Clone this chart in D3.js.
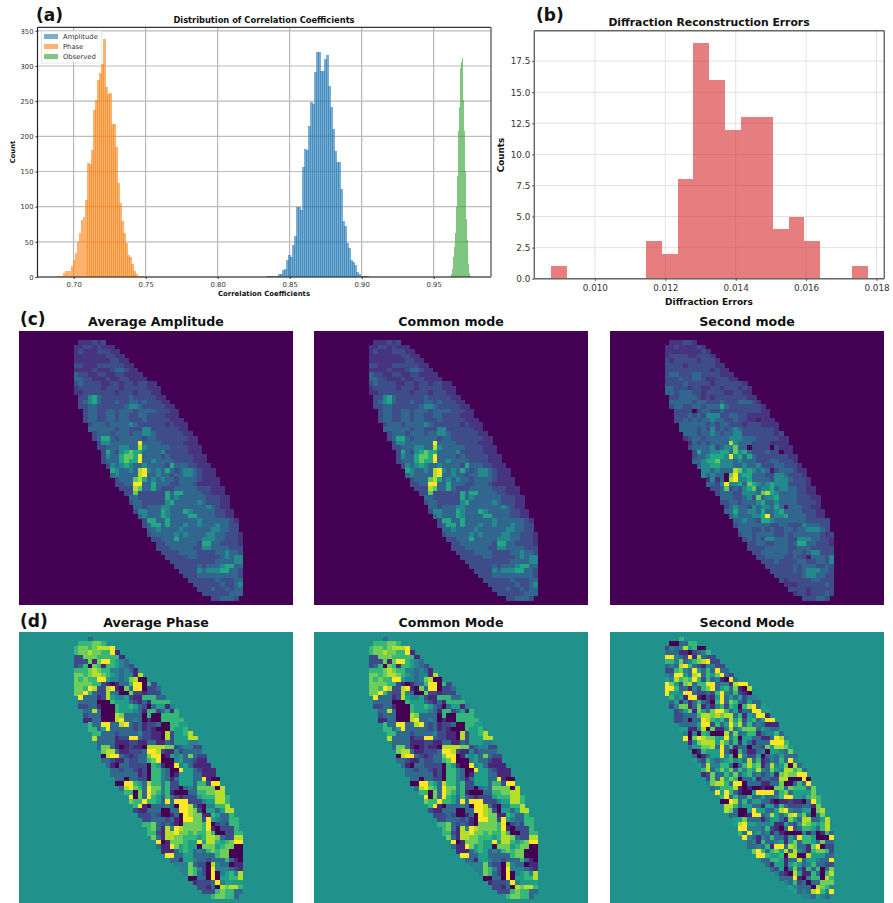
<!DOCTYPE html>
<html>
<head>
<meta charset="utf-8">
<script src="https://cdn.jsdelivr.net/npm/d3@7"></script>
<style>
body { margin: 0; background: #fff; }
text { font-family: "DejaVu Sans", sans-serif; }
</style>
</head>
<body>
<svg id="fig" width="893" height="903"></svg>
<script>
// histogram counts
var ampStart = 0.8338, phaseStart = 0.6887, obsStart = 0.9611;
var ampWidth = 0.00139, phaseWidth = 0.00139, obsWidth = 0.000694;
var ampCounts = [1,1,1,1,1,2,4,4,10,12,24,31,28,45,58,99,99,95,157,182,180,215,249,246,291,320,320,293,293,310,315,271,242,211,179,163,163,125,79,72,49,41,24,21,17,7,4,1,1,1,1];
var phaseCounts = [2,1,2,6,8,9,9,16,24,34,50,63,81,85,110,162,161,180,237,251,280,290,303,338,270,260,261,217,217,185,133,105,79,63,49,31,29,18,8,4,2,1,1];
var obsCounts = [2,4,12,29,43,62,100,143,207,242,297,306,312,252,207,150,83,53,19,6,2];
var xTicksA = [0.70,0.75,0.80,0.85,0.90,0.95];
var yTicksA = [0,50,100,150,200,250,300,350];

// panel (b)
var errStart = 0.00875, errWidth = 0.00045;
var errCounts = [1,0,0,0,0,0,3,2,8,19,16,12,13,13,4,5,3,0,0,1];
var xTicksB = [0.010,0.012,0.014,0.016,0.018];
var yTicksB = [0,2.5,5,7.5,10,12.5,15,17.5];

// first column of each image row, rows 1..58 of the 60x60 maps
var colStart = [15,13,12,12,12,12,12,12,12,12,12,12,12,13,13,13,14,14,14,15,15,16,16,17,17,18,18,18,19,20,20,21,21,22,23,24,24,25,25,26,27,27,28,28,29,30,30,31,32,33,34,35,36,37,38,39,40,42];

// digits 0-9 are estimated colour levels per cell
var ampAverage = ["0","222323","223323222","2322233322","22222223322","222222223322","3322233333322","22223222344322","433223322332222","4433222322332222","343333223323323322","2333332333233333222","2233333332333233322","3356433333343333322","34564333433443433322","334433333345543333322","344334434443444433322","344334434433443333222","3443344344333433333222","3444344445433333323222","4444443443335533333322","3444344434455433333322","34664344444344333333322","3554444449444433333222","33444554485444443333222","3643567664444533333222","35446776944443433333222","34446766944544443333222","35456544544443644433222","65445489545464345543222","45444489445443445543222","34447864545443444432222","33449944644433444322222","33387446433344444333222","3373333336466444433222","4433333364544444433322","3443333356444445433322","443444554444444454322","3554446544465444443322","454446544446644443322","366446444444544444432","346646444544544454433","44544445444444554433","344444545444455443332","33444644444555443332","3344444443664433332","3334444433554444333","333344443333445443","33333443333345455","3333333333444455","333334344456644","33335455566443","3334444444443","333333433344","33333343345","3334334344","333333444","334443"];
var ampSecond = ["0","222332","223222232","2222222232","23333223332","323333323332","3333233333322","33333333332322","344333443333222","3334334432233322","333343333323333332","4433323322332333232","4434443323333223322","3344443232333333322","44444344333433344432","344334434446433333332","333303443343333333322","333434355533443322222","3343434454433433221222","4444443434433323332222","4444343534345433333332","4443445434455333333323","23443444445554443333322","2434344448544433332222","34444534557440333303222","3644556647564333433022","34456665956464333333322","44566755545444333443332","45566555445445333443332","55454448756545413444322","54544079566444335543332","25240895564444355543332","44359556476545655533332","33473435674556455443322","3444335554786544443322","4443345374556444433322","3344344456445444433332","345443545546414443322","4464455464456444433322","454445569455644443322","445443665444444433333","344444443344333544433","44433434334434455543","344344443343444444323","34343554443355544332","3344334443466443332","3333444443344433333","334444443443455333","33444433433144435","3334333344334435","333333434443343","33333434555443","3333334554433","323333344333","22233333343","3333233333","233233343","333443"];
var phaseAverage = ["3","666776","677678889","6778776691","22777666661","222717996543","2360761665432","66678766443431","776788765434418","7676699544347800","777766210133699062","7769822891073990223","7796322843007221222","9333128544521166633","33330006555321316666","223310006556532035514","338300065554316623516","233300087333306006666","1133000893343010066666","6339933893231223006655","6635933333231210006556","6633323333422110825568","83333122993221108255588","3333111221133113255544","37731012110888877234422","7883112223998211423333","08993212337990154537322","33211322336790004533211","31033222206510094531111","33233212066430095532111","33333312066430155533111","33033220664313555339100","00996538664622555366299","38976397746220343777708","6607397646100033667788","9073965363212225666886","7669665393999222455886","691033343099831044668","2113330033998720553588","222320013098771165336","223332310997729543366","667323210777769023266","67318498777769102226","662188977676686002266","73188776665688732288","9017776559588656799","3119756550777567700","111356534367677000","99335533333677000","3315543323336310","444732208433011","44764209444321","4763209045648","003309055668","12223945555","2213087886","222676633","677663"];
var phaseSecond = ["6","003366","243485600","3331102346","99432918322","664734678922","3438963214422","22674395363933","439953893657932","5486769626341093","975278366993441899","9963314267935637108","9554993223269436210","6451991021593535244","35141363206937632533","247713713146265068935","235717537996351339955","223336887878836154991","2230339865638572563599","3333599263596836343111","5511480711483577735433","4040650008373466134463","90798775594605533113984","1478885863615313339996","35577839361330332758875","0165559310631134055437","30135594608422503435333","53264345645383612436394","53844663036867138457083","68357573646584375488673","12733647356342351787799","27385760335133228800090","47886399033311337003639","34666810100100773766637","9596310059999367355557","6936336335334699554676","0098363553310112110396","886355331552632223317","8730059553358943355078","330019934853589573047","557333135531753883358","589554445115325876568","99444362103923665368","639453413100004130163","94314363315396650009","3416334515736653733","3343619938733179022","796367583843167762","99655608800855533","3366513383554339","315515653463322","32503731636037","4210851163068","333910466086","43623033777","5433308764","534389649","443543"];
// the common mode looks the same as the average at this size
var ampCommon = ampAverage, phaseCommon = phaseAverage;

var svg = d3.select("#fig");

function histBars(g, x, y, start, width, counts, color, overlap) {
    g.selectAll(null)
        .data(counts)
        .enter().append("rect")
        .attr("x", function(d, i) { return x(start + i * width); })
        .attr("width", function(d, i) { return x(start + (i + 1) * width) - x(start + i * width) + overlap; })
        .attr("y", function(d) { return y(d); })
        .attr("height", function(d) { return y(0) - y(d); })
        .attr("fill", color)
        .attr("fill-opacity", 0.6)
        .attr("shape-rendering", "crispEdges");
}

function styleAxis(g, fontSize, color) {
    g.select(".domain").remove();
    g.selectAll("text").attr("font-size", fontSize).attr("fill", color);
    g.selectAll("line").attr("stroke", color);
}

function spine(x1, y1, x2, y2, color, w) {
    svg.append("line").attr("x1", x1).attr("y1", y1).attr("x2", x2).attr("y2", y2)
        .attr("stroke", color).attr("stroke-width", w);
}

function label(txt, x, y, size, anchor, weight, rotate) {
    var t = svg.append("text").text(txt)
        .attr("font-size", size)
        .attr("font-weight", weight || "bold")
        .attr("text-anchor", anchor || "middle")
        .attr("fill", "#111");
    if (rotate) t.attr("transform", "translate(" + x + "," + y + ") rotate(-90)");
    else t.attr("x", x).attr("y", y);
}

// ---- (a) correlation histogram
var ax = d3.scaleLinear().domain([0.6749, 0.9898]).range([37.5, 491]);
var ay = d3.scaleLinear().domain([0, 355]).range([277, 27.3]);
var ga = svg.append("g");
ga.selectAll(null).data(xTicksA).enter().append("line")
    .attr("x1", ax).attr("x2", ax).attr("y1", 27.3).attr("y2", 277)
    .attr("stroke", "#aaa").attr("stroke-width", 1);
ga.selectAll(null).data(yTicksA).enter().append("line")
    .attr("x1", 37.5).attr("x2", 491).attr("y1", ay).attr("y2", ay)
    .attr("stroke", "#bbb").attr("stroke-width", 1.2);
histBars(ga, ax, ay, ampStart, ampWidth, ampCounts, "#1f77b4", 0.45);
histBars(ga, ax, ay, phaseStart, phaseWidth, phaseCounts, "#ff7f0e", 0.1);
histBars(ga, ax, ay, obsStart, obsWidth, obsCounts, "#2ca02c", 0.3);
styleAxis(svg.append("g").attr("transform", "translate(0,277)")
    .call(d3.axisBottom(ax).tickValues(xTicksA).tickFormat(d3.format(".2f")).tickSize(2).tickPadding(3)), 6.8, "#333");
styleAxis(svg.append("g").attr("transform", "translate(37.5,0)")
    .call(d3.axisLeft(ay).tickValues(yTicksA).tickSize(2).tickPadding(2)), 6.8, "#333");
spine(37.5, 27.3, 37.5, 277, "#222", 1.2);
spine(37.5, 277, 491, 277, "#222", 1.2);
spine(37.5, 27.3, 491, 27.3, "#333", 1.2);
spine(491, 27.3, 491, 277, "#777", 1.6);
label("Distribution of Correlation Coefficients", 264, 23, 8.3);
label("Correlation Coefficients", 264, 296, 6.95);
label("Count", 15, 152, 6.8, "middle", "bold", true);

// legend of (a)
var legendNames = ["Amplitude", "Phase", "Observed"];
var legendColors = ["#1f77b4", "#ff7f0e", "#2ca02c"];
svg.append("rect").attr("x", 41.5).attr("y", 31).attr("width", 60).attr("height", 32)
    .attr("fill", "#fff").attr("fill-opacity", 0.8).attr("stroke", "#ddd").attr("stroke-width", 0.7);
legendNames.forEach(function(n, i) {
    svg.append("rect").attr("x", 44).attr("y", 34 + i * 10).attr("width", 14).attr("height", 5)
        .attr("fill", legendColors[i]).attr("fill-opacity", 0.6);
    svg.append("text").text(n).attr("x", 63).attr("y", 39 + i * 10)
        .attr("font-size", 6.8).attr("fill", "#333");
});

// ---- (b) reconstruction errors
var bx = d3.scaleLinear().domain([0.00828, 0.01822]).range([534.3, 884.3]);
var by = d3.scaleLinear().domain([0, 19.95]).range([278.7, 30.7]);
var gb = svg.append("g");
gb.selectAll(null).data(xTicksB).enter().append("line")
    .attr("x1", bx).attr("x2", bx).attr("y1", 30.7).attr("y2", 278.7)
    .attr("stroke", "#e2e2e2").attr("stroke-width", 1);
gb.selectAll(null).data(yTicksB).enter().append("line")
    .attr("x1", 534.3).attr("x2", 884.3).attr("y1", by).attr("y2", by)
    .attr("stroke", "#e2e2e2").attr("stroke-width", 1);
histBars(gb, bx, by, errStart, errWidth, errCounts, "#d62728", 0);
styleAxis(svg.append("g").attr("transform", "translate(0,278.7)")
    .call(d3.axisBottom(bx).tickValues(xTicksB).tickFormat(d3.format(".3f")).tickSize(2).tickPadding(4)), 8.8, "#333");
styleAxis(svg.append("g").attr("transform", "translate(534.3,0)")
    .call(d3.axisLeft(by).tickValues(yTicksB).tickFormat(d3.format(".1f")).tickSize(2).tickPadding(2)), 8.8, "#333");
spine(534.3, 30.7, 534.3, 278.7, "#666", 1.4);
spine(534.3, 278.7, 884.3, 278.7, "#666", 1.4);
spine(534.3, 30.7, 884.3, 30.7, "#666", 1.4);
spine(884.3, 30.7, 884.3, 278.7, "#666", 1.4);
label("Diffraction Reconstruction Errors", 709, 26, 10.8);
label("Diffraction Errors", 709, 305, 9);
label("Counts", 504, 155, 8.8, "middle", "bold", true);

// ---- (c) and (d) image panels
// amplitude levels sit low on the colour map, phase levels are spread evenly
var ampLevel = d3.scaleLinear().domain([0,2,3,4,5,6,7,8,9]).range([0,0.15,0.23,0.33,0.47,0.6,0.75,0.88,1]);
var phaseLevel = d3.scaleLinear().domain([0,9]).range([0,1]);

function drawMap(rows, x0, y0, w, h, level, bgValue, title) {
    var cx = d3.scaleBand().domain(d3.range(60)).range([x0, x0 + w]);
    var cy = d3.scaleBand().domain(d3.range(60)).range([y0, y0 + h]);
    var cells = [];
    rows.forEach(function(s, r) {
        for (var i = 0; i < s.length; i++) {
            cells.push({ col: colStart[r] + i, row: r + 1, v: level(+s[i]) });
        }
    });
    var g = svg.append("g").attr("shape-rendering", "crispEdges");
    g.append("rect").attr("x", x0).attr("y", y0).attr("width", w).attr("height", h)
        .attr("fill", d3.interpolateViridis(bgValue));
    g.selectAll(null).data(cells).enter().append("rect")
        .attr("x", function(d) { return cx(d.col); })
        .attr("y", function(d) { return cy(d.row); })
        .attr("width", cx.bandwidth() + 0.5)
        .attr("height", cy.bandwidth() + 0.5)
        .attr("fill", function(d) { return d3.interpolateViridis(d.v); });
    label(title, x0 + w / 2, y0 - 5.5, 12.6);
}

var panelX = [19, 314, 610];
var ampRows = [ampAverage, ampCommon, ampSecond];
var phaseRows = [phaseAverage, phaseCommon, phaseSecond];
var ampTitles = ["Average Amplitude", "Common mode", "Second mode"];
var phaseTitles = ["Average Phase", "Common Mode", "Second Mode"];
panelX.forEach(function(x, i) {
    drawMap(ampRows[i], x, 331, 274, 274, ampLevel, 0, ampTitles[i]);
    drawMap(phaseRows[i], x, 632, 274, 271, phaseLevel, 0.5, phaseTitles[i]);
});

// panel letters
label("(a)", 36, 21, 17, "start");
label("(b)", 536, 21, 17, "start");
label("(c)", 20, 325, 17, "start");
label("(d)", 20, 627, 17, "start");
</script>
</body>
</html>
